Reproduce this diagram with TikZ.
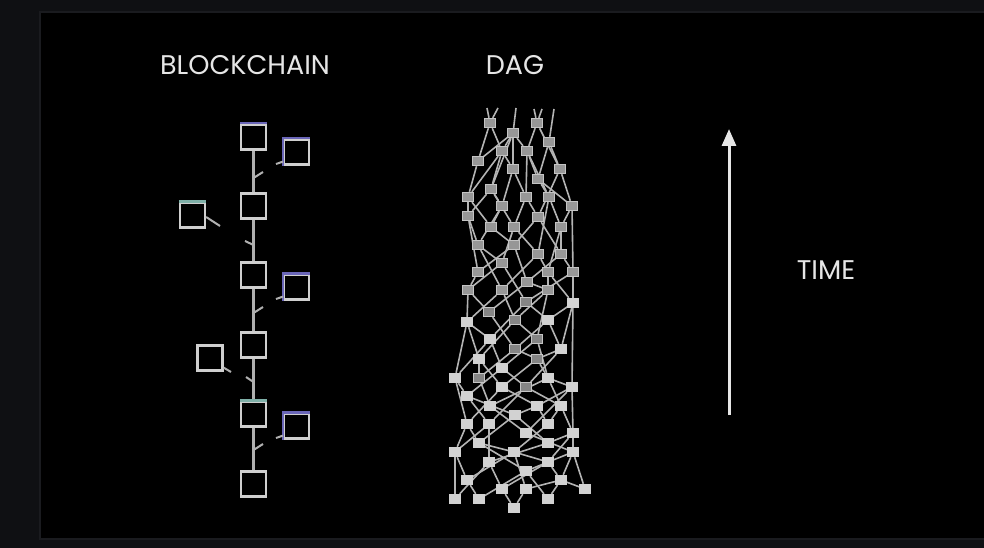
\documentclass[tikz,border=0pt]{standalone}
\usepackage{fontspec}
\setmainfont{Poppins}
\usetikzlibrary{arrows.meta}
\pgfdeclarelayer{back}
\pgfdeclarelayer{edges}
\pgfsetlayers{back,edges,main}
\definecolor{outerbg}{HTML}{0F1013}
\definecolor{innerline}{HTML}{1A1B1F}
\definecolor{txt}{HTML}{E6E6E6}
\definecolor{boxline}{HTML}{CFCFCF}
\definecolor{chainline}{HTML}{B0B0B0}
\definecolor{bluetop}{HTML}{6A66B8}
\definecolor{tealtop}{HTML}{7FB0A8}
\definecolor{dagedgecol}{HTML}{B4B4B4}
\definecolor{dagfillmd}{HTML}{979797}
\definecolor{dagfilldk}{HTML}{858585}
\definecolor{dagfilllt}{HTML}{D2D2D2}
\definecolor{dagdraw}{HTML}{C4C4C4}
\begin{document}
\begin{tikzpicture}[x=1pt,y=-1pt,
  label/.style={text=txt,font=\fontsize{27}{28}\selectfont,inner sep=0pt},
  blk/.style={draw=boxline,line width=2.3pt,minimum width=25pt,minimum height=25pt,inner sep=0pt},
  chain/.style={draw=chainline,line width=2.2pt},
  tick/.style={draw=chainline,line width=2pt},
  dagmd/.style={fill=dagfillmd,draw=dagdraw,line width=0.9pt,minimum width=10.5pt,minimum height=9.5pt,inner sep=0pt},
  dagdk/.style={fill=dagfilldk,draw=dagdraw,line width=0.9pt,minimum width=10.5pt,minimum height=9.5pt,inner sep=0pt},
  daglt/.style={fill=dagfilllt,draw=dagfilllt,line width=0.9pt,minimum width=10.5pt,minimum height=9.5pt,inner sep=0pt},
  dagedge/.style={draw=dagedgecol,line width=1.6pt},
  timearrow/.style={draw=txt,line width=3pt,-{Triangle[length=17pt,width=14pt]}}
]
\useasboundingbox (0,0) rectangle (984,548);
\begin{pgfonlayer}{back}
  \fill[outerbg] (0,0) rectangle (984,548);
  \fill[black,draw=innerline,line width=1.5pt] (40,12) rectangle (990,539);
\end{pgfonlayer}

% titles
\node[label] (tblock) at (245,65) {BLOCKCHAIN};
\node[label] (tdag) at (515,65) {DAG};
\node[label] (ttime) at (826,270) {TIME};

% time arrow
\coordinate (tbot) at (729,415);
\coordinate (ttop) at (729,129);
\draw[timearrow] (tbot) -- (ttop);

% blockchain main chain
\node[blk] (b1) at (253.5,137) {};
\node[blk] (b2) at (253.5,206) {};
\node[blk] (b3) at (253.5,275) {};
\node[blk] (b4) at (253.5,345) {};
\node[blk] (b5) at (253.5,414) {};
\node[blk] (b6) at (253.5,484) {};
\draw[chain] (b1.south) -- (b2.north);
\draw[chain] (b2.south) -- (b3.north);
\draw[chain] (b3.south) -- (b4.north);
\draw[chain] (b4.south) -- (b5.north);
\draw[chain] (b5.south) -- (b6.north);
% coloured top edges
\draw[bluetop,line width=2.3pt] (b1.north west) -- (b1.north east);
\draw[tealtop,line width=2.3pt] (b5.north west) -- (b5.north east);

% side (orphan) blocks
\node[blk] (r1) at (296.5,152) {};
\node[blk] (r2) at (296.5,287) {};
\node[blk] (r3) at (296.5,426) {};
\node[blk] (l1) at (192.5,215) {};
\node[blk] (l2) at (210,358) {};
\draw[bluetop,line width=2.3pt] (r1.south west) -- (r1.north west) -- (r1.north east);
\draw[bluetop,line width=2.3pt] (r2.south west) -- (r2.north west) -- (r2.north east);
\draw[bluetop,line width=2.3pt] (r3.south west) -- (r3.north west) -- (r3.north east);
\draw[tealtop,line width=2.3pt] (l1.north west) -- (l1.north east);

% stubs of side blocks
\coordinate (r1s) at (276,164);
\coordinate (r2s) at (276,299);
\coordinate (r3s) at (276,438);
\coordinate (l1s) at (220,226);
\coordinate (l2s) at (231,372);
\draw[tick] (r1.south west) ++(0,-4) -- (r1s);
\draw[tick] (r2.south west) ++(0,-4) -- (r2s);
\draw[tick] (r3.south west) ++(0,-4) -- (r3s);
\draw[tick] (l1.east) ++(0,2) -- (l1s);
\draw[tick] (l2.south east) ++(0,-4) -- (l2s);

% small ticks on the chain
\coordinate (k1a) at (253.5,178); \coordinate (k1b) at (263,172);
\coordinate (k2a) at (253.5,245); \coordinate (k2b) at (245,241);
\coordinate (k3a) at (253.5,313); \coordinate (k3b) at (263,307);
\coordinate (k4a) at (253.5,382); \coordinate (k4b) at (246,377);
\coordinate (k5a) at (253.5,450); \coordinate (k5b) at (263,444);
\draw[tick] (k1a) -- (k1b);
\draw[tick] (k2a) -- (k2b);
\draw[tick] (k3a) -- (k3b);
\draw[tick] (k4a) -- (k4b);
\draw[tick] (k5a) -- (k5b);

% DAG nodes
\foreach \i/\x/\y/\s in {
 1/490/123/md, 2/537/123/md, 3/513/133/md, 4/549/142/md, 5/502/151/md, 6/527/151/md,
 7/478/161/md, 8/513/169/md, 9/560/169/md, 10/538/179/md, 11/491/189/md, 12/468/197/md,
 13/526/197/md, 14/549/197/md, 15/502/206/md, 16/572/206/md, 17/468/216/md, 18/538/217/md,
 19/491/227/md, 20/514/227/md, 21/561/227/md, 22/478/245/md, 23/514/245/md, 24/538/254/md,
 25/561/254/md, 26/502/263/md, 27/478/272/md, 28/548/272/md, 29/573/272/md, 30/527/282/md,
 31/468/290/md, 32/502/290/md, 33/548/290/md, 34/526/302/dk, 35/573/303/lt, 36/489/312/dk,
 37/467/322/lt, 38/515/320/dk, 39/548/320/lt, 40/490/339/lt, 41/537/339/dk, 42/515/349/dk,
 43/561/349/lt, 44/479/359/lt, 45/537/359/dk, 46/502/368/lt, 47/455/378/lt, 48/479/378/dk,
 49/548/378/lt, 50/502/387/lt, 51/526/387/dk, 52/572/387/lt, 53/467/396/lt, 54/490/406/lt,
 55/537/406/lt, 56/561/406/lt, 57/515/415/lt, 58/467/424/lt, 59/489/424/lt, 60/548/424/lt,
 61/526/433/lt, 62/573/433/lt, 63/479/443/lt, 64/548/443/lt, 65/455/452/lt, 66/514/452/lt,
 67/573/452/lt, 68/489/462/lt, 69/548/462/lt, 70/526/471/lt, 71/467/480/lt, 72/561/480/lt,
 73/502/489/lt, 74/526/489/lt, 75/585/489/lt, 76/455/499/lt, 77/479/499/lt, 78/548/499/lt,
 79/514/508/lt}
  \node[dag\s] (d\i) at (\x,\y) {};

% free ends at the top of the DAG
\coordinate (f1) at (487,108);
\coordinate (f2) at (498,108);
\coordinate (f3) at (516,108);
\coordinate (f4) at (534,109);
\coordinate (f5) at (542,109);
\coordinate (f6) at (554,109);

\begin{pgfonlayer}{edges}
\draw[dagedge] (d1) -- (f1);
\draw[dagedge] (d1) -- (f2);
\draw[dagedge] (d3) -- (f3);
\draw[dagedge] (d2) -- (f4);
\draw[dagedge] (d2) -- (f5);
\draw[dagedge] (d4) -- (f6);
\foreach \a/\b in {
 5/1, 5/3, 6/3, 6/2, 7/1, 7/3, 8/5, 8/3, 9/4, 9/2, 10/6, 10/4,
 11/5, 11/3, 12/7, 12/5, 13/8, 13/6, 14/10, 14/6, 15/11, 15/8, 16/9, 16/10,
 17/12, 17/11, 18/13, 18/9, 19/12, 19/15, 20/13, 20/11, 21/16, 21/14,
 22/17, 22/15, 23/19, 23/18, 24/20, 24/14, 25/21, 25/18, 26/22, 26/20,
 27/17, 27/23, 28/24, 28/21, 29/25, 29/16, 30/23, 30/25, 31/27, 31/26,
 32/22, 32/24, 33/28, 33/30, 34/26, 34/29, 35/28, 35/29, 36/31, 36/30,
 37/31, 37/32, 38/32, 38/33, 39/34, 39/35, 40/37, 40/34, 41/38, 41/33,
 42/36, 42/39, 43/39, 43/35, 44/37, 44/38, 45/42, 45/43, 46/40, 46/41,
 47/37, 47/40, 48/44, 48/42, 49/45, 49/41, 50/44, 50/45, 51/46, 51/43,
 52/35, 52/49, 53/47, 53/46, 54/48, 54/49, 55/50, 55/52, 56/49, 56/51,
 57/53, 57/55, 58/47, 58/50, 59/53, 59/51, 60/55, 60/56, 61/54, 61/52,
 62/56, 62/52, 63/58, 63/57, 64/57, 64/62, 65/58, 65/59, 66/63, 66/60,
 67/62, 67/61, 68/59, 68/64, 69/66, 69/62, 70/63, 70/67, 71/65, 71/66,
 72/67, 72/69, 73/68, 73/69, 74/66, 74/72, 75/67, 75/72, 76/65, 76/68,
 77/71, 77/70, 78/70, 78/72, 79/73, 79/74}
  \draw[dagedge] (d\a) -- (d\b);
\end{pgfonlayer}
\end{tikzpicture}
\end{document}
